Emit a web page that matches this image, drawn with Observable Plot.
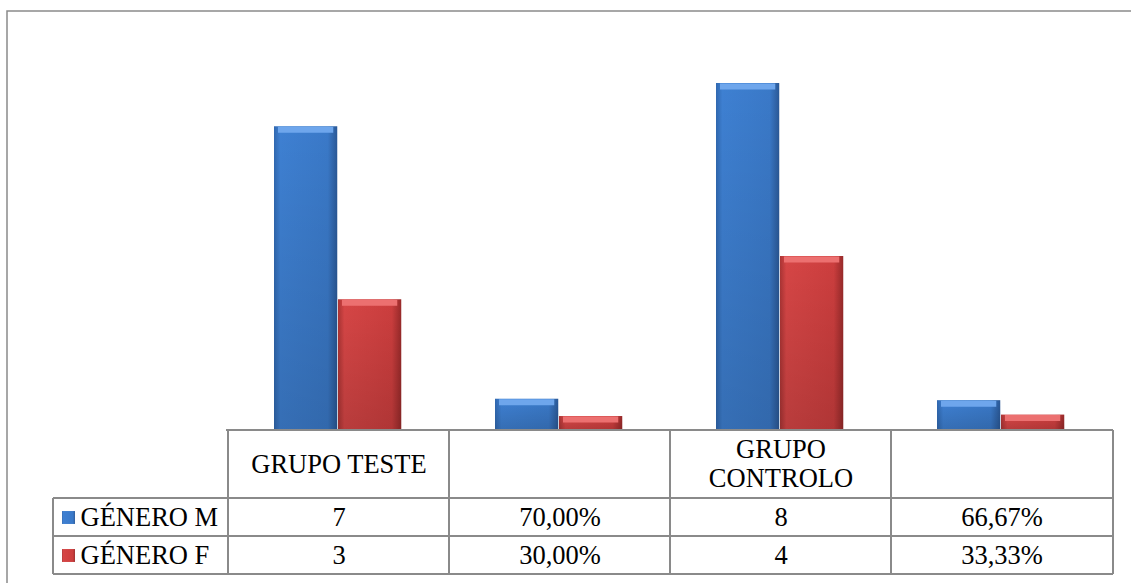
<!DOCTYPE html>
<html>
<head>
<meta charset="utf-8">
<script src="https://cdn.jsdelivr.net/npm/d3@7"></script>
<script src="https://cdn.jsdelivr.net/npm/@observablehq/plot@0.6"></script>
<style>
  html, body { margin: 0; padding: 0; background: #fff; }
  #chart svg { display: block; }
</style>
</head>
<body>
<div id="chart"></div>
<script>
// ---- data ----
const columns = ["GRUPO TESTE", "GRUPO TESTE %", "GRUPO CONTROLO", "GRUPO CONTROLO %"];
const headerLabels = ["GRUPO TESTE", "", "GRUPO\nCONTROLO", ""];
const series = ["GÉNERO M", "GÉNERO F"];
const generoM = [7, 0.70, 8, 0.6667];
const generoF = [3, 0.30, 4, 0.3333];
const cellM = ["7", "70,00%", "8", "66,67%"];
const cellF = ["3", "30,00%", "4", "33,33%"];

const dataM = columns.map((c, i) => ({column: c, value: generoM[i], text: cellM[i]}));
const dataF = columns.map((c, i) => ({column: c, value: generoF[i], text: cellF[i]}));
const headers = columns.map((c, i) => ({column: c, text: headerLabels[i]})).filter(d => d.text);

const W = 1131, H = 583;
const mL = 226, mR = 18, mT = 83, mB = 154;
const band = (W - mL - mR) / columns.length;
const barW = 64, barOff = 46;
const FONT = "Liberation Serif";
const gridColor = "#8a8a8a";
const rowHead = 69, rowH = 38;

function decorations(index, scales, values, dims) {
  const g = d3.create("svg:g");
  const defs = g.append("defs");
  const mk = (id, stops, vertical) => {
    const lg = defs.append("linearGradient").attr("id", id)
      .attr("x1", 0).attr("y1", 0).attr("x2", vertical ? 0 : 1).attr("y2", vertical ? 1 : 0);
    stops.forEach(([o, c, op]) => lg.append("stop").attr("offset", o).attr("stop-color", c).attr("stop-opacity", op ?? 1));
  };
  mk("gradM", [[0, "#3068b0"], [0.1, "#3e80d2"], [0.85, "#3a79c8"], [1, "#2a5896"]]);
  mk("gradF", [[0, "#aa3434"], [0.1, "#d64646"], [0.85, "#cc3e3e"], [1, "#982a2a"]]);
  mk("shade", [[0, "#000", 0], [1, "#000", 0.14]], true);
  g.append("path").attr("d", `M7,${H}V11H${W}`).attr("fill", "none")
    .attr("stroke", gridColor).attr("stroke-width", 1.5);
  return g.node();
}

function tableLines(index, scales, values, dims) {
  const {x} = scales;
  const {height, marginBottom} = dims;
  const g = d3.create("svg:g").attr("stroke", gridColor).attr("stroke-width", 2).attr("fill", "none");
  const base = height - marginBottom;
  const top = base + 1;
  const left = x.range()[0], right = x.range()[1];
  const labelLeft = 53;
  const y1 = base + rowHead, y2 = y1 + rowH, y3 = y2 + rowH;
  g.append("path").attr("d", `M${left},${top}H${right}`);
  g.append("path").attr("d", `M${labelLeft},${y1}H${right}M${labelLeft},${y2}H${right}M${labelLeft},${y3}H${right}`);
  g.append("path").attr("d", `M${labelLeft},${y1}V${y3}`);
  columns.forEach(c => g.append("path").attr("d", `M${x(c)},${top}V${y3}`));
  g.append("path").attr("d", `M${right},${top}V${y3}`);
  return g.node();
}

const textStyle = {fontFamily: FONT, fontSize: 26.5, fill: "#000", frameAnchor: "bottom"};

const chart = Plot.plot({
  width: W,
  height: H,
  marginLeft: mL,
  marginRight: mR,
  marginTop: mT,
  marginBottom: mB,
  style: {overflow: "visible", background: "#fff", fontFamily: FONT},
  x: {domain: columns, padding: 0, axis: null},
  y: {domain: [0, 8], axis: null},
  marks: [
    decorations,
    Plot.barY(dataM, {x: "column", y: "value", fill: "url(#gradM)", insetLeft: barOff, insetRight: band - barOff - barW}),
    Plot.barY(dataM, {x: "column", y: "value", fill: "url(#shade)", insetLeft: barOff, insetRight: band - barOff - barW}),
    Plot.tickY(dataM, {x: "column", y: "value", stroke: "#6ea6ec", strokeWidth: 6, dy: 3, insetLeft: barOff + 4, insetRight: band - barOff - barW + 4}),
    Plot.barY(dataF, {x: "column", y: "value", fill: "url(#gradF)", insetLeft: barOff + barW, insetRight: band - barOff - 2 * barW}),
    Plot.barY(dataF, {x: "column", y: "value", fill: "url(#shade)", insetLeft: barOff + barW, insetRight: band - barOff - 2 * barW}),
    Plot.tickY(dataF, {x: "column", y: "value", stroke: "#ec7070", strokeWidth: 6, dy: 3, insetLeft: barOff + barW + 4, insetRight: band - barOff - 2 * barW + 4}),
    tableLines,
    Plot.text(headers, {...textStyle, x: "column", text: "text", dy: 34, lineAnchor: "middle", lineHeight: 1.06}),
    Plot.text(dataM, {...textStyle, x: "column", text: "text", dy: 88, lineAnchor: "middle"}),
    Plot.text(dataF, {...textStyle, x: "column", text: "text", dy: 126, lineAnchor: "middle"}),
    Plot.dot([series[0]], {frameAnchor: "bottom-left", dx: 68 - mL, dy: 88, symbol: "square", r: 7.3, fill: "url(#gradM)", stroke: null}),
    Plot.dot([series[1]], {frameAnchor: "bottom-left", dx: 68 - mL, dy: 126, symbol: "square", r: 7.3, fill: "url(#gradF)", stroke: null}),
    Plot.text([series[0]], {...textStyle, frameAnchor: "bottom-left", text: d => d, textAnchor: "start", dx: 80 - mL, dy: 88, lineAnchor: "middle"}),
    Plot.text([series[1]], {...textStyle, frameAnchor: "bottom-left", text: d => d, textAnchor: "start", dx: 80 - mL, dy: 126, lineAnchor: "middle"})
  ]
});
document.getElementById("chart").appendChild(chart);
</script>
</body>
</html>
